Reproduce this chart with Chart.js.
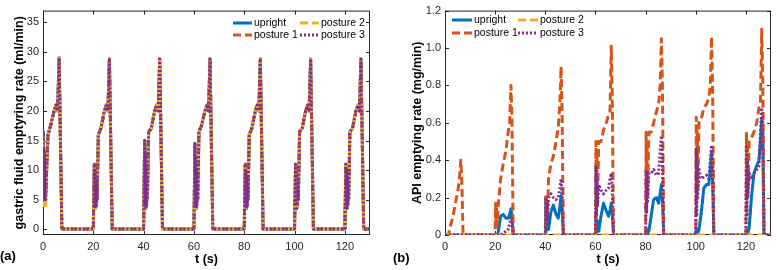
<!DOCTYPE html>
<html>
<head>
<meta charset="utf-8">
<script src="https://cdn.jsdelivr.net/npm/chart.js@4/dist/chart.umd.min.js"></script>
<style>
  body { margin: 0; background: #fff; }
  #wrap { position: relative; width: 777px; height: 270px; overflow: hidden; }
  canvas { position: absolute; top: 0; }
  #ca { left: 0; }
  #cb { left: 390px; }
  .tag { position: absolute; font: bold 13px "Liberation Sans", Arial, sans-serif; color: #000; }
</style>
</head>
<body>
<div id="wrap">
  <canvas id="ca" width="388" height="270"></canvas>
  <canvas id="cb" width="387" height="270"></canvas>
  <span class="tag" style="left:0px; top:248px;">(a)</span>
  <span class="tag" style="left:393px; top:250px;">(b)</span>
</div>
<script>
// shared
const seriesNames = ['upright', 'posture 1', 'posture 2', 'posture 3'];
const xTicks = [0, 20, 40, 60, 80, 100, 120];

// (a) gastric fluid emptying rate, ml/min
const yTicksA = [0, 5, 10, 15, 20, 25, 30, 35];
const tA = [
  0, 0.15, 0.3, 0.45, 0.6, 0.75, 0.9, 1.1, 1.4, 2, 3, 4.4, 5.2, 5.8, 6.4, 7.5,
  20, 20.4, 20.55, 20.7, 20.85, 21, 21.15, 21.3, 21.5, 22, 23, 24.4, 25.2, 25.8, 26.4, 27.5,
  40, 40.4, 40.55, 40.7, 40.85, 41, 41.15, 41.3, 41.5, 42, 43, 44.4, 45.2, 45.8, 46.4, 47.5,
  60, 60.4, 60.55, 60.7, 60.85, 61, 61.15, 61.3, 61.5, 62, 63, 64.4, 65.2, 65.8, 66.4, 67.5,
  80, 80.4, 80.55, 80.7, 80.85, 81, 81.15, 81.3, 81.5, 82, 83, 84.4, 85.2, 85.8, 86.4, 87.5,
  100, 100.4, 100.55, 100.7, 100.85, 101, 101.15, 101.3, 101.5, 102, 103, 104.4, 105.2, 105.8, 106.4, 107.5,
  120, 120.4, 120.55, 120.7, 120.85, 121, 121.15, 121.3, 121.5, 122, 123, 124.4, 125.2, 125.8, 126.4, 127.5,
  130
];
const gUpright = [
  16.5, 6, 15, 5, 13, 6, 12, 6, 10, 16, 17.5, 20, 21, 20, 29, 0,
  0, 11, 4, 10, 3.5, 9, 4, 8, 5, 16, 17, 20, 21, 20, 28.8, 0,
  0, 15, 4, 13, 3.5, 11, 4, 9, 5, 16.5, 17, 20, 21, 20, 28.8, 0,
  0, 14.5, 4, 12, 3.5, 10, 4, 9, 5, 16.5, 17.5, 20, 21, 20, 28.8, 0,
  0, 11, 4, 10, 3.5, 9, 4, 8, 5, 16, 17, 20, 21, 20, 28.8, 0,
  0, 11, 4, 10, 3.5, 9, 4, 8, 5, 16.5, 17, 20, 21, 20, 28.8, 0,
  0, 11, 4, 10, 3.5, 9, 4, 8, 5, 16.5, 17, 20, 21, 20, 28.8, 0,
  0
];
const gPosture1 = [
  16, 5, 14, 5, 12, 6, 11, 6, 10, 16, 17.5, 20, 21, 20, 29, 0,
  0, 11, 4, 10, 3.5, 9, 4, 8, 5, 16, 17, 20, 21, 20, 28.8, 0,
  0, 15, 4, 13, 3.5, 11, 4, 9, 5, 16.5, 17, 20, 21, 20, 28.8, 0,
  0, 14.5, 4, 12, 3.5, 10, 4, 9, 5, 16.5, 17.5, 20, 21, 20, 28.8, 0,
  0, 11, 4, 10, 3.5, 9, 4, 8, 5, 16, 17, 20, 21, 20, 28.8, 0,
  0, 11, 4, 10, 3.5, 9, 4, 8, 5, 16.5, 17, 20, 21, 20, 28.8, 0,
  0, 11, 4, 10, 3.5, 9, 4, 8, 5, 16.5, 17, 20, 21, 20, 28.8, 0,
  0
];
const gPosture2 = [
  15, 4, 12, 4, 10, 4, 9, 4, 8, 16, 17.5, 20, 21, 20, 29, 0,
  0, 11, 4, 10, 3.5, 9, 4, 8, 5, 16, 17, 20, 21, 20, 28.8, 0,
  0, 15, 4, 13, 3.5, 11, 4, 9, 5, 16.5, 17, 20, 21, 20, 28.8, 0,
  0, 14.5, 4, 12, 3.5, 10, 4, 9, 5, 16.5, 17.5, 20, 21, 20, 28.8, 0,
  0, 11, 4, 10, 3.5, 9, 4, 8, 5, 16, 17, 20, 21, 20, 28.8, 0,
  0, 11, 4, 10, 3.5, 9, 4, 8, 5, 16.5, 17, 20, 21, 20, 28.8, 0,
  0, 11, 4, 10, 3.5, 9, 4, 8, 5, 16.5, 17, 20, 21, 20, 28.8, 0,
  0
];
const gPosture3 = [
  16, 5, 14, 5, 12, 5, 11, 5, 9, 16, 17.5, 20, 21, 20, 29, 0,
  0, 11, 4, 10, 3.5, 9, 4, 8, 5, 16, 17, 20, 21, 20, 28.8, 0,
  0, 15, 4, 13, 3.5, 11, 4, 9, 5, 16.5, 17, 20, 21, 20, 28.8, 0,
  0, 14.5, 4, 12, 3.5, 10, 4, 9, 5, 16.5, 17.5, 20, 21, 20, 28.8, 0,
  0, 11, 4, 10, 3.5, 9, 4, 8, 5, 16, 17, 20, 21, 20, 28.8, 0,
  0, 11, 4, 10, 3.5, 9, 4, 8, 5, 16.5, 17, 20, 21, 20, 28.8, 0,
  0, 11, 4, 10, 3.5, 9, 4, 8, 5, 16.5, 17, 20, 21, 20, 28.8, 0,
  0
];

// (b) API emptying rate, mg/min
const yTicksB = [0, 0.2, 0.4, 0.6, 0.8, 1, 1.2];
const tB = [
  0, 0.2, 0.4, 0.6, 0.8, 1.3, 2.2, 3.2, 4.3, 5.2, 5.8, 6.3, 6.7, 7.2,
  20, 20.2, 20.4, 20.6, 20.8, 21.3, 22.2, 23.2, 24.3, 25.2, 25.8, 26.3, 26.7, 27.2,
  40, 40.2, 40.4, 40.6, 40.8, 41.3, 42.2, 43.2, 44.3, 45.2, 45.8, 46.3, 46.7, 47.2,
  60, 60.2, 60.4, 60.6, 60.8, 61.3, 62.2, 63.2, 64.3, 65.2, 65.8, 66.3, 66.7, 67.2,
  80, 80.2, 80.4, 80.6, 80.8, 81.3, 82.2, 83.2, 84.3, 85.2, 85.8, 86.3, 86.7, 87.2,
  100, 100.2, 100.4, 100.6, 100.8, 101.3, 102.2, 103.2, 104.3, 105.2, 105.8, 106.3, 106.7, 107.2,
  120, 120.2, 120.4, 120.6, 120.8, 121.3, 122.2, 123.2, 124.3, 125.2, 125.8, 126.3, 126.7, 127.2,
  130
];
const aUpright = [
  0, 0, 0, 0, 0, 0, 0, 0, 0, 0, 0, 0, 0, 0,
  0, 0, 0, 0, 0, 0.02, 0.1, 0.11, 0.09, 0.09, 0.11, 0.14, 0.1, 0,
  0, 0.2, 0.05, 0.15, 0.03, 0.03, 0.12, 0.16, 0.11, 0.09, 0.15, 0.21, 0.15, 0,
  0, 0.1, 0.02, 0.08, 0.02, 0.02, 0.1, 0.17, 0.13, 0.1, 0.13, 0.17, 0.12, 0,
  0, 0.03, 0.01, 0.03, 0.01, 0.02, 0.1, 0.19, 0.2, 0.17, 0.22, 0.27, 0.2, 0,
  0, 0.03, 0.01, 0.03, 0.01, 0.03, 0.12, 0.25, 0.27, 0.27, 0.35, 0.44, 0.3, 0,
  0, 0.03, 0.01, 0.03, 0.01, 0.04, 0.2, 0.33, 0.37, 0.4, 0.5, 0.62, 0.55, 0,
  0
];
const aPosture1 = [
  0, 0, 0, 0, 0, 0, 0.05, 0.1, 0.18, 0.24, 0.31, 0.4, 0.3, 0,
  0, 0.17, 0.04, 0.15, 0.05, 0.17, 0.3, 0.38, 0.45, 0.55, 0.6, 0.8, 0.62, 0,
  0, 0.22, 0.08, 0.2, 0.1, 0.3, 0.38, 0.42, 0.5, 0.58, 0.7, 0.9, 0.65, 0,
  0, 0.5, 0.1, 0.45, 0.15, 0.5, 0.5, 0.56, 0.6, 0.64, 0.66, 1.01, 0.75, 0,
  0, 0.55, 0.15, 0.5, 0.2, 0.55, 0.55, 0.6, 0.66, 0.7, 0.8, 1.05, 0.8, 0,
  0, 0.63, 0.2, 0.55, 0.25, 0.6, 0.62, 0.68, 0.7, 0.73, 0.8, 1.06, 0.8, 0,
  0, 0.55, 0.2, 0.5, 0.25, 0.5, 0.52, 0.55, 0.6, 0.68, 0.7, 1.1, 0.85, 0,
  0
];
const tPosture2B = [0, 130];
const aPosture2 = [0, 0];
const aPosture3 = [
  0, 0, 0, 0, 0, 0, 0, 0, 0, 0, 0, 0, 0, 0,
  0, 0, 0, 0, 0, 0, 0, 0.01, 0.02, 0.03, 0.06, 0.1, 0.08, 0,
  0, 0.2, 0.05, 0.18, 0.08, 0.2, 0.22, 0.2, 0.19, 0.2, 0.25, 0.3, 0.22, 0,
  0, 0.37, 0.1, 0.3, 0.15, 0.27, 0.24, 0.22, 0.24, 0.25, 0.3, 0.33, 0.25, 0,
  0, 0.35, 0.12, 0.33, 0.18, 0.33, 0.33, 0.35, 0.32, 0.33, 0.45, 0.53, 0.4, 0,
  0, 0.46, 0.1, 0.4, 0.2, 0.35, 0.3, 0.31, 0.32, 0.3, 0.4, 0.48, 0.4, 0,
  0, 0.47, 0.1, 0.4, 0.2, 0.33, 0.3, 0.33, 0.35, 0.37, 0.55, 0.68, 0.6, 0,
  0
];

const FONT = '"Liberation Sans", Arial, Helvetica, sans-serif';
const AXIS = '#262626';
const styles = [
  { color: '#0072BD', dash: [] },
  { color: '#D95319', dash: [8, 4] },
  { color: '#EDB120', dash: [8, 4] },
  { color: '#7E2F8E', dash: [2, 2] }
];

function pts(ts, vs) {
  return ts.map((t, i) => ({ x: t, y: vs[i] }));
}

function makeSets(list) {
  return list.map((d, i) => ({
    label: seriesNames[i],
    data: pts(d[0], d[1]),
    borderColor: styles[i].color,
    borderDash: styles[i].dash,
    borderWidth: 3,
    borderCapStyle: 'butt',
    borderJoinStyle: 'round',
    pointRadius: 0,
    tension: 0,
    fill: false,
    order: 4 - i
  }));
}

// box with inward ticks on all four sides
const frame = {
  id: 'frame',
  beforeDatasetsDraw(chart) {
    const { ctx, chartArea: a, scales: { x, y } } = chart;
    ctx.save();
    ctx.strokeStyle = AXIS;
    ctx.lineWidth = 1;
    ctx.strokeRect(a.left + 0.5, a.top + 0.5, a.width - 1, a.height - 1);
    ctx.beginPath();
    x.ticks.forEach(t => {
      const px = Math.round(x.getPixelForValue(t.value)) + 0.5;
      ctx.moveTo(px, a.bottom); ctx.lineTo(px, a.bottom - 4);
      ctx.moveTo(px, a.top); ctx.lineTo(px, a.top + 4);
    });
    y.ticks.forEach(t => {
      const py = Math.round(y.getPixelForValue(t.value)) + 0.5;
      ctx.moveTo(a.left, py); ctx.lineTo(a.left + 4, py);
      ctx.moveTo(a.right, py); ctx.lineTo(a.right - 4, py);
    });
    ctx.stroke();
    ctx.restore();
  }
};

// two-column legend, column-major like the original
const legend2 = {
  id: 'legend2',
  afterDraw(chart, args, o) {
    const ctx = chart.ctx;
    ctx.save();
    ctx.font = '10.5px ' + FONT;
    ctx.textBaseline = 'middle';
    ctx.fillStyle = '#000';
    chart.data.datasets.forEach((ds, i) => {
      const col = Math.floor(i / 2), row = i % 2;
      const x = o.x + col * o.colW, y = o.y + row * o.rowH;
      ctx.strokeStyle = ds.borderColor;
      ctx.lineWidth = ds.borderWidth;
      ctx.setLineDash(ds.borderDash);
      ctx.beginPath();
      ctx.moveTo(x, y); ctx.lineTo(x + o.lineW, y);
      ctx.stroke();
      ctx.setLineDash([]);
      ctx.fillText(ds.label, x + o.lineW + 2, y + 0.5);
    });
    ctx.restore();
  }
};

function makeOptions(p) {
  return {
    responsive: false,
    animation: false,
    devicePixelRatio: 1,
    layout: { padding: { top: 9, right: p.padRight, left: 0, bottom: 0 } },
    plugins: {
      legend: { display: false },
      tooltip: { enabled: false },
      legend2: p.legend
    },
    scales: {
      x: {
        type: 'linear', min: 0, max: 130,
        afterBuildTicks: s => { s.ticks = xTicks.map(v => ({ value: v })); },
        afterFit: s => { s.height = 35; },
        grid: { display: false, drawTicks: false },
        border: { display: false },
        ticks: { color: AXIS, font: { family: FONT, size: 11 }, padding: 5, maxRotation: 0 },
        title: { display: true, text: 't (s)', color: '#000',
                 font: { family: FONT, size: 12.5, weight: 'bold' }, padding: { top: 0, bottom: 3 } }
      },
      y: {
        type: 'linear', min: p.yMin, max: p.yMax,
        afterBuildTicks: s => { s.ticks = p.yTicks.map(v => ({ value: v })); },
        afterFit: s => { s.width = p.yWidth; },
        grid: { display: false, drawTicks: false },
        border: { display: false },
        ticks: { color: AXIS, font: { family: FONT, size: 11 }, padding: 4 },
        title: { display: true, text: p.yTitle, color: '#000',
                 font: { family: FONT, size: 12.5, weight: 'bold' }, padding: { top: p.yTitlePad, bottom: 0 } }
      }
    }
  };
}

new Chart(document.getElementById('ca'), {
  type: 'line',
  data: {
    datasets: makeSets([
      [tA, gUpright], [tA, gPosture1], [tA, gPosture2], [tA, gPosture3]
    ])
  },
  options: makeOptions({
    padRight: 18, yMin: -1, yMax: 37, yTicks: yTicksA, yWidth: 43, yTitlePad: 12,
    yTitle: 'gastric fluid emptyring rate (ml/min)',
    legend: { x: 233, y: 23, colW: 67, rowH: 12, lineW: 19 }
  }),
  plugins: [frame, legend2]
});

new Chart(document.getElementById('cb'), {
  type: 'line',
  data: {
    datasets: makeSets([
      [tB, aUpright], [tB, aPosture1], [tPosture2B, aPosture2], [tB, aPosture3]
    ])
  },
  options: makeOptions({
    padRight: 6, yMin: 0, yMax: 1.2, yTicks: yTicksB, yWidth: 55, yTitlePad: 20,
    yTitle: 'API emptying rate (mg/min)',
    legend: { x: 62, y: 20, colW: 66, rowH: 13, lineW: 20 }
  }),
  plugins: [frame, legend2]
});
</script>
</body>
</html>
